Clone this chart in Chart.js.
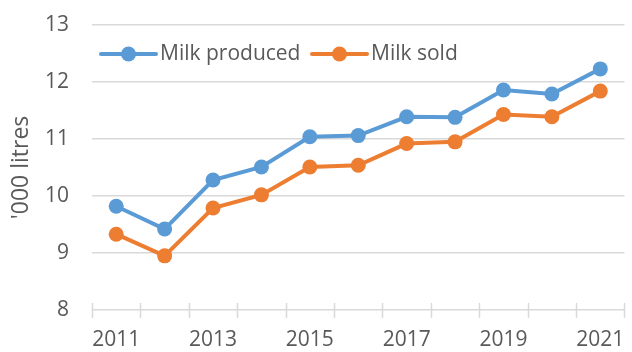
<!DOCTYPE html>
<html>
<head>
<meta charset="utf-8">
<script src="https://cdn.jsdelivr.net/npm/chart.js@4.4.1/dist/chart.umd.min.js"></script>
<style>
html,body{margin:0;padding:0;background:#fff;}
#wrap{width:632px;height:352px;}
</style>
</head>
<body>
<div id="wrap"><canvas id="c" width="632" height="352"></canvas></div>
<script>
const years = ['2011','2012','2013','2014','2015','2016','2017','2018','2019','2020','2021'];
const milkProduced = [9.82, 9.42, 10.28, 10.51, 11.04, 11.06, 11.39, 11.38, 11.86, 11.79, 12.23];
const milkSold = [9.33, 8.95, 9.79, 10.02, 10.51, 10.54, 10.92, 10.95, 11.43, 11.39, 11.84];
const yTicks = [8, 9, 10, 11, 12, 13];
const yTitle = "'000 litres";

const FONT = "'Open Sans', sans-serif";
const TXT = '#595959';
const GRID = '#d9d9d9';

const insideLegend = {
  id: 'insideLegend',
  afterDatasetsDraw(chart) {
    const ctx = chart.ctx;
    const a = chart.chartArea;
    const y = a.top + 29;
    const items = [
      {ds: chart.data.datasets[0], x: a.left + 9},
      {ds: chart.data.datasets[1], x: a.left + 220}
    ];
    ctx.save();
    items.forEach(it => {
      const c = it.ds.borderColor;
      ctx.strokeStyle = c;
      ctx.lineWidth = 4;
      ctx.lineCap = 'round';
      ctx.beginPath();
      ctx.moveTo(it.x, y);
      ctx.lineTo(it.x + 55, y);
      ctx.stroke();
      ctx.fillStyle = c;
      ctx.beginPath();
      ctx.arc(it.x + 27.5, y, 7.5, 0, Math.PI * 2);
      ctx.fill();
      ctx.fillStyle = TXT;
      ctx.font = '21px ' + FONT;
      ctx.textBaseline = 'middle';
      ctx.textAlign = 'left';
      ctx.fillText(it.ds.label, it.x + 59, y);
    });
    ctx.restore();
  }
};

const crossTicks = {
  id: 'crossTicks',
  afterDraw(chart) {
    const xs = chart.scales.x;
    const ctx = chart.ctx;
    const yb = chart.chartArea.bottom;
    const n = years.length;
    const step = (xs.right - xs.left) / n;
    ctx.save();
    ctx.strokeStyle = GRID;
    ctx.lineWidth = 1.5;
    for (let i = 0; i <= n; i++) {
      const x = Math.round(xs.left + i * step) + (i === n ? -0.5 : 0.5);
      ctx.beginPath();
      ctx.moveTo(x, yb - 7);
      ctx.lineTo(x, yb + 8);
      ctx.stroke();
    }
    ctx.restore();
  }
};

new Chart(document.getElementById('c'), {
  type: 'line',
  data: {
    labels: years,
    datasets: [
      {label: 'Milk produced', data: milkProduced, borderColor: '#5b9bd5', backgroundColor: '#5b9bd5',
       borderWidth: 4, pointRadius: 7.5, pointHoverRadius: 7.5, pointBorderWidth: 0, tension: 0},
      {label: 'Milk sold', data: milkSold, borderColor: '#ed7d31', backgroundColor: '#ed7d31',
       borderWidth: 4, pointRadius: 7.5, pointHoverRadius: 7.5, pointBorderWidth: 0, tension: 0}
    ]
  },
  options: {
    responsive: false,
    animation: false,
    events: [],
    layout: {padding: {top: 25, right: 2, bottom: 0, left: 0}},
    plugins: {legend: {display: false}, tooltip: {enabled: false}},
    scales: {
      x: {
        offset: true,
        grid: {display: false, drawTicks: false},
        border: {display: false},
        ticks: {
          color: TXT, font: {family: FONT, size: 21}, padding: 17, maxRotation: 0, autoSkip: false,
          callback: function(v, i) { return i % 2 === 0 ? years[i] : ''; }
        },
        afterFit(s) { s.height = 42; s.paddingLeft = 0; s.paddingRight = 0; }
      },
      y: {
        min: 8, max: 13,
        afterBuildTicks(s) { s.ticks = yTicks.map(v => ({value: v})); },
        grid: {color: GRID, lineWidth: 1.5, drawTicks: false},
        border: {display: false},
        ticks: {color: TXT, font: {family: FONT, size: 21}, padding: 23},
        title: {display: true, text: yTitle, color: TXT, font: {family: FONT, size: 23}, padding: {top: 8, bottom: 0}},
        afterFit(s) { s.width = 92; s.paddingTop = 0; s.paddingBottom = 0; }
      }
    }
  },
  plugins: [insideLegend, crossTicks]
});
</script>
</body>
</html>
